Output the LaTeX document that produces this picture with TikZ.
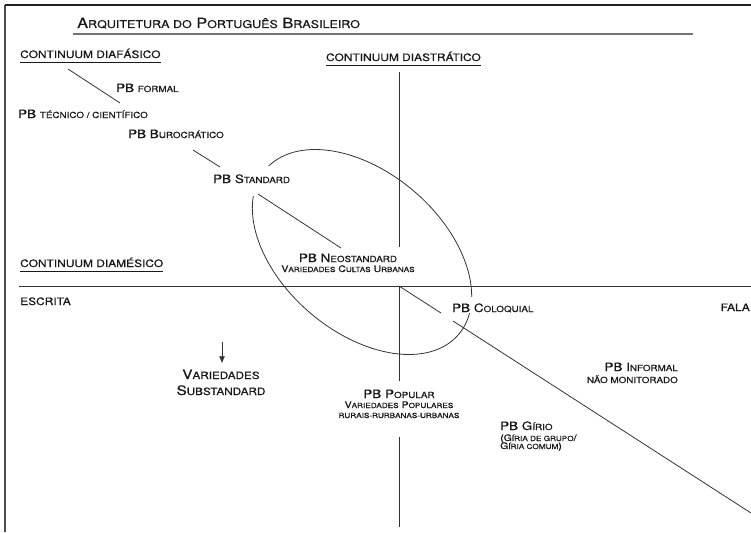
\documentclass[tikz,border=0pt]{standalone}
\usepackage{fontspec}
\setmainfont{TeX Gyre Heros}[FakeStretch=1.17, FakeBold=0.7]
\usetikzlibrary{arrows.meta}
\newcommand\tsc[1]{{\fontsize{10.7pt}{12pt}\selectfont #1}}
\newcommand\psc[1]{{\fontsize{8.4pt}{9pt}\selectfont #1}}
\newcommand\ssc[1]{{\fontsize{7pt}{8pt}\selectfont #1}}
\newcommand\vsc[1]{{\fontsize{10pt}{11pt}\selectfont #1}}
\tikzset{
  txt/.style={inner sep=0pt, text=black!90},
  big/.style={txt, font=\fontsize{11.5pt}{13pt}\selectfont},
  small/.style={txt, font=\fontsize{9pt}{10pt}\selectfont},
  head/.style={txt, font=\fontsize{10.2pt}{12pt}\selectfont},
  ttl/.style={txt, font=\fontsize{14pt}{16pt}\selectfont},
  vbig/.style={txt, font=\fontsize{13pt}{15pt}\selectfont},
  ln/.style={draw=black!80, line width=0.8pt},
  uline/.style={draw=black!90, line width=0.9pt},
}
\begin{document}
\begin{tikzpicture}[x=1pt,y=-1pt]
\useasboundingbox (0,0) rectangle (751,532);
% frame
\coordinate (f0) at (5,5);
\coordinate (f1) at (751,5);
\coordinate (f2) at (5,532);
\draw[black!70, line width=2pt] (f0) -- (f2);
\draw[black!88, line width=1.6pt] (f0) -- (f1);

% title
\node[ttl, anchor=base west] (title) at (77,28) {A\tsc{RQUITETURA DO} P\tsc{ORTUGUÊS} B\tsc{RASILEIRO}};
\coordinate (t0) at (73,34);
\coordinate (t1) at (693,34);
\draw[black!55, line width=2pt] (t0) -- (t1);

% headings
\node[head, anchor=base west] (hdf) at (20,58) {CONTINUUM DIAFÁSICO};
\draw[uline] ([yshift=-4pt]hdf.base west) -- ([yshift=-4pt]hdf.base east);
\node[head, anchor=base east] (hds) at (481,61) {CONTINUUM DIASTRÁTICO};
\draw[uline] ([yshift=-4pt]hds.base west) -- ([yshift=-4pt]hds.base east);
\node[head, anchor=base west] (hdm) at (20,267) {CONTINUUM DIAMÉSICO};
\draw[uline] ([yshift=-4pt]hdm.base west) -- ([yshift=-4pt]hdm.base east);

% axes
\coordinate (o) at (399,286);
\coordinate (hl) at (19,286);
\coordinate (hr) at (751,286);
\draw[ln] (hl) -- (hr);
\coordinate (v0) at (399,72);
\coordinate (v1) at (399,247);
\coordinate (v2) at (399,381);
\coordinate (v3) at (399,437);
\coordinate (v4) at (399,527);
\draw[ln] (v0) -- (v1);
\draw[ln] (o) -- (v2);
\draw[ln] (v3) -- (v4);

% ellipse
\draw[ln, rotate around={-40.5:(362,252)}] (362,252) ellipse [x radius=127pt, y radius=80pt];

% labels
\node[head, anchor=base west] (escrita) at (20,305) {ESCRITA};
\node[head, anchor=base east] (fala) at (750,311) {FALA};

\node[big, anchor=base west] (formal) at (116,92) {PB \psc{FORMAL}};
\node[big, anchor=base west] (tecnico) at (18,118) {PB \psc{TÉCNICO / CIENTÍFICO}};
\node[big, anchor=base west] (buro) at (128,138) {PB B\psc{UROCRÁTICO}};
\node[big, anchor=base west, fill=white, text height=17pt, text depth=13pt, inner xsep=2pt] (standard) at (211,183) {PB S\psc{TANDARD}};
\node[big, anchor=base] (neo) at (348,262) {PB N\psc{EOSTANDARD}};
\node[small, anchor=base] (cultas) at (348,272) {V\ssc{ARIEDADES} C\ssc{ULTAS} U\ssc{RBANAS}};
\node[big, anchor=base west, fill=white, text height=15pt, text depth=1pt, inner xsep=2pt] (coloq) at (450,312) {PB C\psc{OLOQUIAL}};
\node[big, anchor=base east] (informal) at (678,371) {PB I\psc{NFORMAL}};
\node[txt, font=\fontsize{8.4pt}{9pt}\selectfont, anchor=base east] (naomon) at (678,383) {NÃO MONITORADO};
\node[big, anchor=base] (popular) at (399,398) {PB P\psc{OPULAR}};
\node[small, anchor=base] (varpop) at (399,408) {V\ssc{ARIEDADES} P\ssc{OPULARES}};
\node[small, anchor=base] (rurais) at (399,418) {\ssc{RURAIS-RURBANAS-URBANAS}};
\node[big, anchor=base west] (girio) at (500,430) {PB G\psc{ÍRIO}};
\node[small, anchor=base west] (giria1) at (500,441) {(G\ssc{ÍRIA DE GRUPO}/};
\node[small, anchor=base west] (giria2) at (500,449) {G\ssc{ÍRIA COMUM})};
\node[vbig, anchor=base] (var) at (221,379) {V\vsc{ARIEDADES}};
\node[vbig, anchor=base] (subst) at (221,395) {S\vsc{UBSTANDARD}};

% connectors
\coordinate (a0) at (68,69);
\coordinate (a1) at (120,103);
\draw[ln] (a0) -- (a1);
\coordinate (b0) at (193,150);
\coordinate (b1) at (220,167);
\draw[ln] (b0) -- (b1);
\coordinate (c0) at (258,194);
\coordinate (c1) at (341,248);
\draw[ln] (c0) -- (c1);
\coordinate (d1) at (441,313);
\coordinate (d2) at (453,321);
\coordinate (d3) at (751,513);
\draw[ln] (o) -- (d1);
\draw[ln] (d2) -- (d3);
\coordinate (ar0) at (222,342);
\draw[ln, -{Latex[length=7pt,width=6pt]}] (ar0) -- ([yshift=6pt]var.north -| ar0);
\end{tikzpicture}
\end{document}
